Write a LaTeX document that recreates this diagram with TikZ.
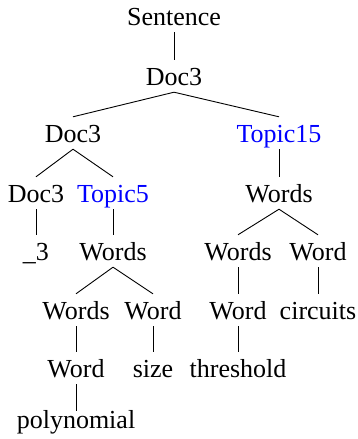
\documentclass[tikz,border=0pt]{standalone}
\usepackage{fontspec}
\setmainfont{Liberation Serif}
\definecolor{topicblue}{RGB}{0,0,255}
\tikzset{
  tn/.style={anchor=base, inner sep=0pt, text height=25pt, text depth=7pt, font=\fontsize{26}{30}\selectfont},
  topic/.style={tn, text=topicblue},
  edge/.style={draw=black, line width=0.9pt}
}
\begin{document}
\begin{tikzpicture}[x=1pt,y=1pt]
\useasboundingbox (0,0) rectangle (358,-439);
% level 0
\node[tn] (s) at (174,-25) {Sentence};
% level 1
\node[tn] (d1) at (174,-85) {Doc3};
% level 2
\node[tn] (d2) at (73,-142) {Doc3};
\node[topic] (t15) at (279,-142) {Topic15};
% level 3
\node[tn] (d3) at (36,-202) {Doc3};
\node[topic] (t5) at (113,-202) {Topic5};
\node[tn] (wr) at (279,-202) {Words};
% level 4
\node[tn] (u3) at (36,-260) {\_3};
\node[tn] (wl) at (113,-260) {Words};
\node[tn] (wr2) at (238,-260) {Words};
\node[tn] (wdr) at (318,-260) {Word};
% level 5
\node[tn] (wl2) at (76,-319) {Words};
\node[tn] (wdl) at (153,-319) {Word};
\node[tn] (wdm) at (238,-319) {Word};
\node[tn] (circ) at (318,-319) {circuits};
% level 6
\node[tn] (wdp) at (76,-377) {Word};
\node[tn] (size) at (153,-377) {size};
\node[tn] (thr) at (238,-377) {threshold};
% level 7
\node[tn, text height=17pt] (poly) at (76,-428) {polynomial};
% edges
\draw[edge] (s.south) -- (d1.north);
\draw[edge] (d1.south) -- (d2.north);
\draw[edge] (d1.south) -- (t15.north);
\draw[edge] (d2.south) -- (d3.north);
\draw[edge] (d2.south) -- (t5.north);
\draw[edge] (t15.south) -- (wr.north);
\draw[edge] (d3.south) -- (u3.north);
\draw[edge] (t5.south) -- (wl.north);
\draw[edge] (wr.south) -- (wr2.north);
\draw[edge] (wr.south) -- (wdr.north);
\draw[edge] (wl.south) -- (wl2.north);
\draw[edge] (wl.south) -- (wdl.north);
\draw[edge] (wr2.south) -- (wdm.north);
\draw[edge] (wdr.south) -- (circ.north);
\draw[edge] (wl2.south) -- (wdp.north);
\draw[edge] (wdl.south) -- (size.north);
\draw[edge] (wdm.south) -- (thr.north);
\draw[edge] (wdp.south) -- (poly.north);
\end{tikzpicture}
\end{document}
